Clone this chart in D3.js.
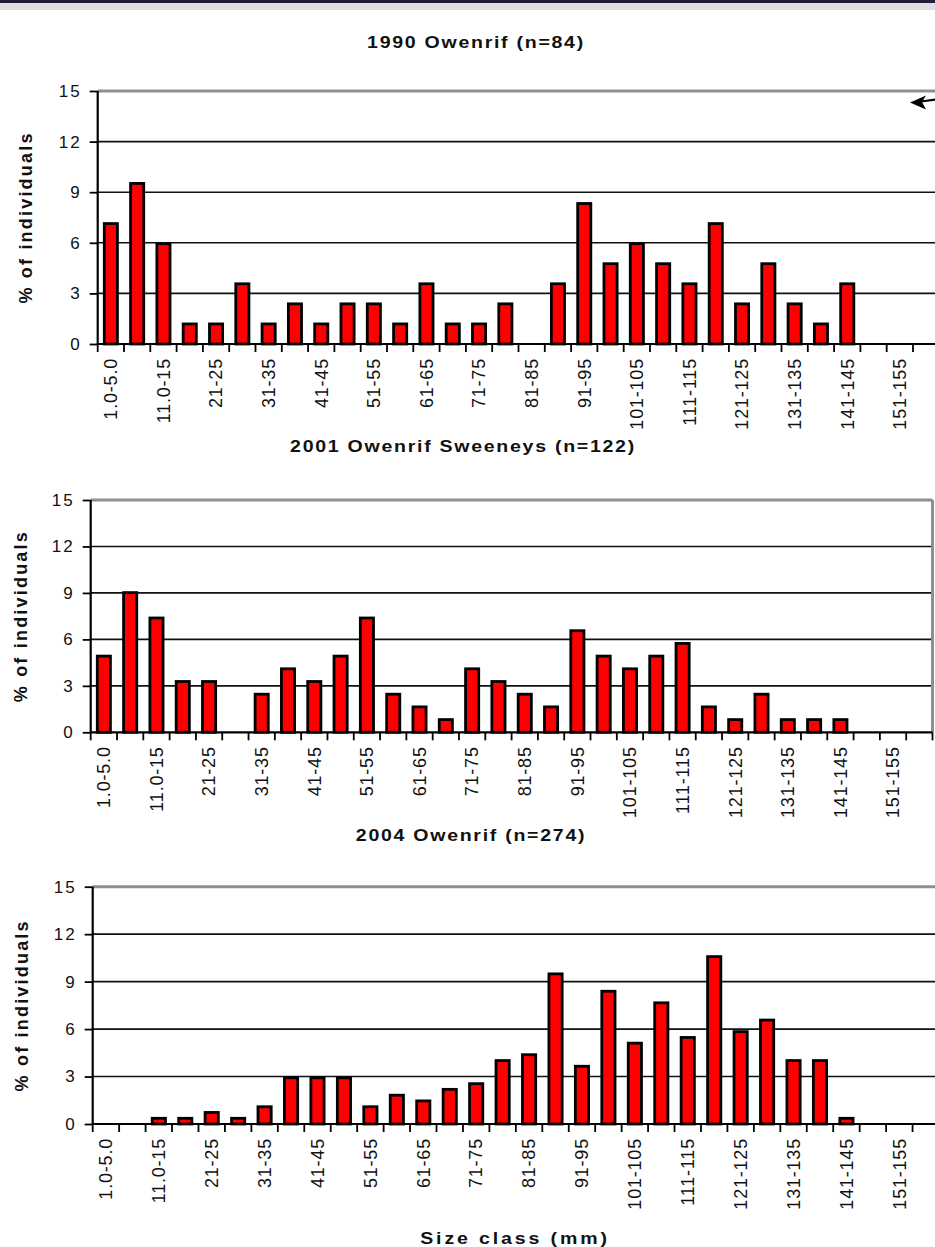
<!DOCTYPE html>
<html>
<head>
  <meta charset="utf-8">
  <script src="https://d3js.org/d3.v7.min.js"></script>
  <style>
    body, html {
      margin: 0;
      padding: 0;
      background: #ffffff;
      overflow: hidden;
    }
    svg text {
      font-family: 'Liberation Sans', Arial, Helvetica, sans-serif;
    }
  </style>
</head>
<body>
  <svg></svg>
  <script>
    // Page size
    const width = 935;
    const height = 1247;

    // Size classes (mm); only every other one gets a label on the axis
    const categories = [
      "1.0-5.0", "6.0-10", "11.0-15", "16-20", "21-25", "26-30", "31-35", "36-40",
      "41-45", "46-50", "51-55", "56-60", "61-65", "66-70", "71-75", "76-80",
      "81-85", "86-90", "91-95", "96-100", "101-105", "106-110", "111-115", "116-120",
      "121-125", "126-130", "131-135", "136-140", "141-145", "146-150", "151-155", "156-160"
    ];
    const yTicks = [0, 3, 6, 9, 12, 15];

    // % of individuals per size class
    const pct1990 = [7.14, 9.52, 5.95, 1.19, 1.19, 3.57, 1.19, 2.38, 1.19, 2.38, 2.38, 1.19, 3.57, 1.19, 1.19, 2.38,
                     0, 3.57, 8.33, 4.76, 5.95, 4.76, 3.57, 7.14, 2.38, 4.76, 2.38, 1.19, 3.57, 0, 0, 0];
    const pct2001 = [4.92, 9.02, 7.38, 3.28, 3.28, 0, 2.46, 4.10, 3.28, 4.92, 7.38, 2.46, 1.64, 0.82, 4.10, 3.28,
                     2.46, 1.64, 6.56, 4.92, 4.10, 4.92, 5.74, 1.64, 0.82, 2.46, 0.82, 0.82, 0.82, 0, 0, 0];
    const pct2004 = [0, 0, 0.36, 0.36, 0.73, 0.36, 1.09, 2.92, 2.92, 2.92, 1.09, 1.82, 1.46, 2.19, 2.55, 4.01,
                     4.38, 9.49, 3.65, 8.39, 5.11, 7.66, 5.47, 10.58, 5.84, 6.57, 4.01, 4.01, 0.36, 0, 0, 0];

    const titles = ["1990 Owenrif (n=84)", "2001 Owenrif Sweeneys (n=122)", "2004 Owenrif (n=274)"];

    // panel layout (plot area of each chart)
    const panels = [
      {title: titles[0], values: pct1990, left: 97.7, right: 939.3, top: 91, bottom: 344, titleX: 476, titleY: 48, labX: 26, frameRight: false},
      {title: titles[1], values: pct2001, left: 90.7, right: 932.5, top: 500, bottom: 732.3, titleX: 463, titleY: 452, labX: 21, frameRight: true},
      {title: titles[2], values: pct2004, left: 92.7, right: 939, top: 886.7, bottom: 1124, titleX: 471, titleY: 841, labX: 22, frameRight: false}
    ];

    const font = "'Liberation Sans', Arial, sans-serif";

    const svg = d3.select("svg")
      .attr("width", width)
      .attr("height", height)
      .attr("viewBox", [0, 0, width, height]);

    // strip of the window frame at the very top
    svg.append("rect").attr("x", 0).attr("y", 0).attr("width", width).attr("height", 3).attr("fill", "#1d2036");
    svg.append("rect").attr("x", 0).attr("y", 3).attr("width", width).attr("height", 7).attr("fill", "#dfdfdf");

    // wide bold text, as in the scanned figure
    function wideText(x, y, txt, size, spacing) {
      svg.append("text")
        .attr("transform", `translate(${x},${y}) scale(1.15,1)`)
        .attr("text-anchor", "middle")
        .attr("font-size", size)
        .attr("font-weight", "bold")
        .attr("letter-spacing", spacing)
        .attr("fill", "#111")
        .text(txt);
    }

    panels.forEach(p => {
      const x = d3.scaleBand()
        .domain(categories)
        .range([p.left, p.right])
        .paddingInner(0.5)
        .paddingOuter(0.25);

      const y = d3.scaleLinear()
        .domain([0, 15])
        .range([p.bottom, p.top]);

      const g = svg.append("g");

      // gridlines
      g.append("g")
        .selectAll("line")
        .data(yTicks.filter(t => t > 0 && t < 15))
        .join("line")
          .attr("x1", p.left)
          .attr("x2", p.right)
          .attr("y1", d => y(d))
          .attr("y2", d => y(d))
          .attr("stroke", "#111")
          .attr("stroke-width", 1.6);

      // plot area border (grey)
      g.append("line")
        .attr("x1", p.left).attr("x2", p.right)
        .attr("y1", y(15)).attr("y2", y(15))
        .attr("stroke", "#8f8f8f")
        .attr("stroke-width", 3);
      if (p.frameRight) {
        g.append("line")
          .attr("x1", p.right).attr("x2", p.right)
          .attr("y1", y(15)).attr("y2", y(0))
          .attr("stroke", "#8f8f8f")
          .attr("stroke-width", 3);
      }

      // bars
      g.append("g")
        .selectAll("rect")
        .data(categories.map((c, i) => ({c: c, v: p.values[i]})).filter(d => d.v > 0))
        .join("rect")
          .attr("x", d => x(d.c))
          .attr("width", x.bandwidth())
          .attr("y", d => y(d.v))
          .attr("height", d => y(0) - y(d.v))
          .attr("fill", "#ff0000")
          .attr("stroke", "#000")
          .attr("stroke-width", 2.8);

      // y axis
      g.append("g")
        .attr("transform", `translate(${p.left},0)`)
        .call(d3.axisLeft(y).tickValues(yTicks).tickSize(8).tickPadding(8))
        .call(a => a.select(".domain").remove())
        .call(a => a.selectAll("line").attr("stroke", "#000").attr("stroke-width", 1.8))
        .call(a => a.selectAll("text")
          .attr("font-size", 17)
          .attr("font-family", font)
          .attr("letter-spacing", 2)
          .attr("fill", "#111"));

      // x axis ticks between the size classes
      const step = x.step();
      const bounds = d3.range(categories.length + 1).map(i =>
        i < categories.length ? x(categories[i]) - step * x.paddingOuter() : p.right);
      g.append("g")
        .selectAll("line")
        .data(bounds)
        .join("line")
          .attr("x1", d => d).attr("x2", d => d)
          .attr("y1", p.bottom).attr("y2", p.bottom + 8)
          .attr("stroke", "#000")
          .attr("stroke-width", 1.8);

      // x labels (every other class)
      g.append("g")
        .attr("transform", `translate(0,${p.bottom})`)
        .call(d3.axisBottom(x).tickValues(categories.filter((c, i) => i % 2 === 0)).tickSize(0))
        .call(a => a.select(".domain").remove())
        .selectAll("text")
          .attr("transform", "rotate(-90)")
          .attr("x", -14)
          .attr("y", 0)
          .attr("dy", "0.35em")
          .attr("text-anchor", "end")
          .attr("font-size", 18)
          .attr("font-family", font)
          .attr("letter-spacing", 0.8)
          .attr("fill", "#111");

      // axis lines
      g.append("line")
        .attr("x1", p.left).attr("x2", p.right)
        .attr("y1", p.bottom).attr("y2", p.bottom)
        .attr("stroke", "#000").attr("stroke-width", 2.2);
      g.append("line")
        .attr("x1", p.left).attr("x2", p.left)
        .attr("y1", p.top).attr("y2", p.bottom)
        .attr("stroke", "#000").attr("stroke-width", 2.2);

      // title
      wideText(p.titleX, p.titleY, p.title, 17, 1.5);

      // y axis label
      svg.append("text")
        .attr("transform", `translate(${p.labX},${(p.top + p.bottom) / 2}) rotate(-90)`)
        .attr("text-anchor", "middle")
        .attr("dy", "0.35em")
        .attr("font-size", 18)
        .attr("font-weight", "bold")
        .attr("letter-spacing", 2.2)
        .attr("fill", "#111")
        .text("% of individuals");
    });

    // x axis title at the bottom (cut by the page edge in the original)
    wideText(515, 1244, "Size class (mm)", 17, 2.5);

    // arrow pointing at the top chart
    svg.append("line")
      .attr("x1", 921).attr("y1", 101.5)
      .attr("x2", 936).attr("y2", 99.5)
      .attr("stroke", "#000").attr("stroke-width", 2);
    svg.append("path")
      .attr("d", "M910,102.5 L926,95.5 L922,102 L926,109.5 Z")
      .attr("fill", "#000");
  </script>
</body>
</html>
